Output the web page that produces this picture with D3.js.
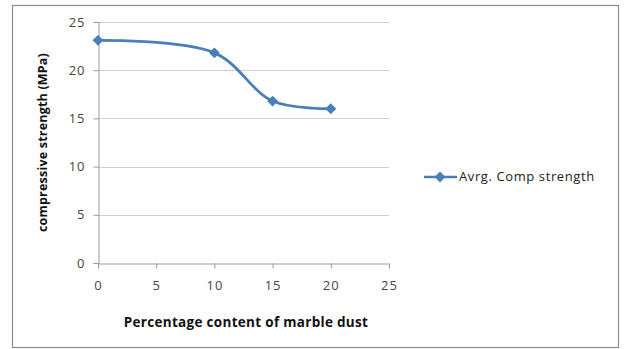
<!DOCTYPE html>
<html lang="en">
<head>
<meta charset="UTF-8">
<title>Compressive strength vs marble dust</title>
<script src="https://d3js.org/d3.v7.min.js"></script>
<style>
  html, body { margin: 0; background: #fff; overflow: hidden; }
  text { font-family: "Open Sans", "DejaVu Sans", sans-serif; }
</style>
</head>
<body>
<div id="chart"></div>
<script>
// data
const percent = [0, 10, 15, 20];
const strength = [23.1, 21.8, 16.8, 16.0];
const xTicks = [0, 5, 10, 15, 20, 25];
const yTicks = [0, 5, 10, 15, 20, 25];
const seriesName = "Avrg. Comp strength";

const W = 624, H = 349;
const plot = { left: 98, right: 389, top: 22, bottom: 263 };
const blue = "#4a7ebb";

const svg = d3.select("#chart").append("svg")
  .attr("width", W).attr("height", H);

// outer frame
svg.append("rect")
  .attr("x", 12.5).attr("y", 5.5)
  .attr("width", 606).attr("height", 342)
  .attr("fill", "#fff").attr("stroke", "#8c8c8c").attr("stroke-width", 1.2);

const x = d3.scaleLinear().domain([0, 25]).range([plot.left, plot.right]);
const y = d3.scaleLinear().domain([0, 25]).range([plot.bottom, plot.top]);

// gridlines
svg.append("g").selectAll("line")
  .data(yTicks.filter(d => d > 0))
  .join("line")
  .attr("x1", plot.left).attr("x2", plot.right)
  .attr("y1", d => Math.round(y(d)) + 0.5).attr("y2", d => Math.round(y(d)) + 0.5)
  .attr("stroke", "#cfcfcf");

// axes
const yAxis = svg.append("g")
  .attr("transform", `translate(${plot.left + 0.5},0)`)
  .call(d3.axisLeft(y).tickValues(yTicks).tickSize(5).tickPadding(8));
const xAxis = svg.append("g")
  .attr("transform", `translate(0,${plot.bottom + 0.5})`)
  .call(d3.axisBottom(x).tickValues(xTicks).tickSize(5).tickPadding(12));

[xAxis, yAxis].forEach(a => {
  a.select(".domain").attr("stroke", "#9a9a9a");
  a.selectAll(".tick line").attr("stroke", "#9a9a9a");
  a.selectAll(".tick text").attr("fill", "#444").style("font-size", "13px")
    .style("letter-spacing", "1px")
    .style("font-family", "'Open Sans', 'DejaVu Sans', sans-serif");
});

// axis titles
svg.append("text")
  .attr("transform", `translate(47,${(plot.top + plot.bottom) / 2}) rotate(-90)`)
  .attr("text-anchor", "middle")
  .style("font-size", "12.5px").style("font-weight", "bold").attr("fill", "#111")
  .style("letter-spacing", "0.2px")
  .text("compressive strength (MPa)");
svg.append("text")
  .attr("x", 246).attr("y", 327)
  .attr("text-anchor", "middle")
  .style("font-size", "13.5px").style("font-weight", "bold").attr("fill", "#111")
  .style("letter-spacing", "0.3px")
  .text("Percentage content of marble dust");

// series
const pts = percent.map((p, i) => [x(p), y(strength[i])]);
svg.append("path")
  .attr("d", d3.line().curve(d3.curveCatmullRom.alpha(0.5))(pts))
  .attr("fill", "none").attr("stroke", blue).attr("stroke-width", 2.8);

const diamond = d3.symbol().type(d3.symbolDiamond2).size(75);
svg.append("g").selectAll("path")
  .data(pts)
  .join("path")
  .attr("transform", d => `translate(${d[0]},${d[1]})`)
  .attr("d", diamond)
  .attr("fill", blue);

// legend
const ly = 177;
svg.append("line")
  .attr("x1", 424).attr("x2", 457).attr("y1", ly).attr("y2", ly)
  .attr("stroke", blue).attr("stroke-width", 2.5);
svg.append("path")
  .attr("transform", `translate(440,${ly})`)
  .attr("d", diamond)
  .attr("fill", blue);
svg.append("text")
  .attr("x", 459).attr("y", ly + 4)
  .style("font-size", "13px").attr("fill", "#222")
  .style("letter-spacing", "0.6px")
  .text(seriesName);
</script>
</body>
</html>
